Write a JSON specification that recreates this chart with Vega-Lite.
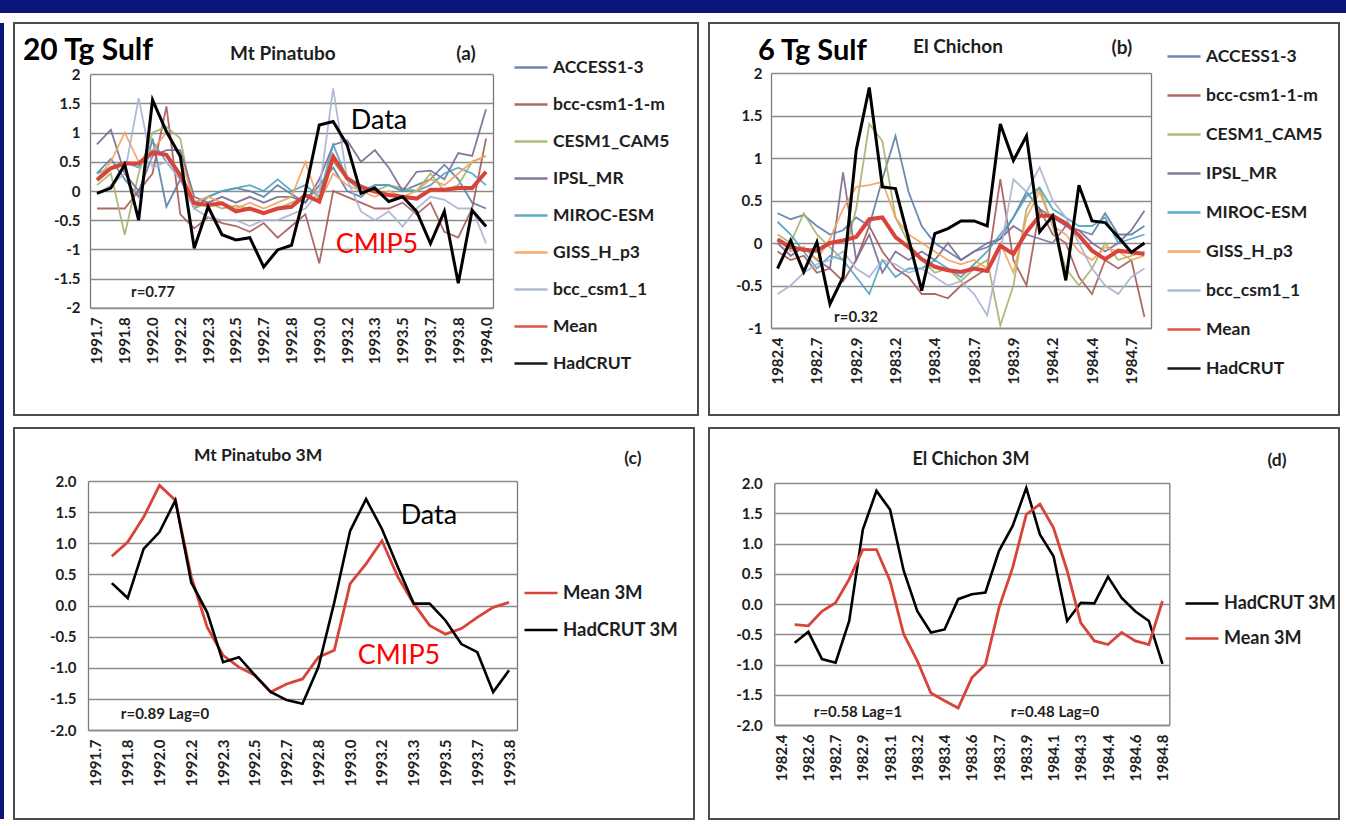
{
"$schema": "https://vega.github.io/schema/vega-lite/v6.json",
"background": "#ffffff",
"padding": {"left": 0, "top": 0, "right": 0, "bottom": 8},
"config": {
  "view": {"stroke": null},
  "locale": {"number": {"decimal": ".", "thousands": ",", "grouping": [3], "currency": ["$", ""], "minus": "-"}},
  "axis": {"labelFont": "Lato", "labelFontWeight": "bold", "labelFontSize": 15, "labelColor": "#1e1e1e", "grid": false, "ticks": false, "domainColor": "#7a7a7a", "domainWidth": 1.3, "labelOverlap": false, "labelFlush": false, "labelBound": false},
  "legend": {"symbolType": "stroke", "symbolSize": 1089, "symbolStrokeWidth": 2.6, "labelFont": "Lato", "labelFontWeight": "bold", "labelFontSize": 17.5, "labelColor": "#1e1e1e", "labelOffset": 4, "labelLimit": 300}
},
"datasets": {
 "a": [
  {"yr":1991.6667,"ACCESS1-3":0.3,"bcc-csm1-1-m":-0.3,"CESM1_CAM5":0.1,"IPSL_MR":0.8,"MIROC-ESM":0.3,"GISS_H_p3":0.2,"bcc_csm1_1":-0.05,"Mean":0.19,"HadCRUT":-0.04},
  {"yr":1991.75,"ACCESS1-3":0.55,"bcc-csm1-1-m":-0.3,"CESM1_CAM5":0.3,"IPSL_MR":1.05,"MIROC-ESM":0.4,"GISS_H_p3":0.5,"bcc_csm1_1":0.1,"Mean":0.39,"HadCRUT":0.05},
  {"yr":1991.8333,"ACCESS1-3":0.2,"bcc-csm1-1-m":-0.3,"CESM1_CAM5":-0.75,"IPSL_MR":0.3,"MIROC-ESM":0.5,"GISS_H_p3":1.0,"bcc_csm1_1":0.3,"Mean":0.47,"HadCRUT":0.45},
  {"yr":1991.9167,"ACCESS1-3":-0.1,"bcc-csm1-1-m":0.0,"CESM1_CAM5":0.3,"IPSL_MR":0.0,"MIROC-ESM":0.4,"GISS_H_p3":0.5,"bcc_csm1_1":1.59,"Mean":0.47,"HadCRUT":-0.5},
  {"yr":1992.0,"ACCESS1-3":0.9,"bcc-csm1-1-m":0.3,"CESM1_CAM5":1.0,"IPSL_MR":0.6,"MIROC-ESM":0.85,"GISS_H_p3":0.7,"bcc_csm1_1":0.4,"Mean":0.66,"HadCRUT":1.56},
  {"yr":1992.0833,"ACCESS1-3":-0.27,"bcc-csm1-1-m":1.45,"CESM1_CAM5":1.1,"IPSL_MR":0.7,"MIROC-ESM":0.5,"GISS_H_p3":1.0,"bcc_csm1_1":0.5,"Mean":0.62,"HadCRUT":1.02},
  {"yr":1992.1667,"ACCESS1-3":0.2,"bcc-csm1-1-m":-0.4,"CESM1_CAM5":0.9,"IPSL_MR":0.7,"MIROC-ESM":0.2,"GISS_H_p3":0.6,"bcc_csm1_1":0.2,"Mean":0.27,"HadCRUT":0.59},
  {"yr":1992.25,"ACCESS1-3":-0.3,"bcc-csm1-1-m":-0.64,"CESM1_CAM5":-0.3,"IPSL_MR":-0.1,"MIROC-ESM":-0.2,"GISS_H_p3":-0.2,"bcc_csm1_1":-0.3,"Mean":-0.21,"HadCRUT":-0.98},
  {"yr":1992.3333,"ACCESS1-3":-0.1,"bcc-csm1-1-m":-0.45,"CESM1_CAM5":-0.2,"IPSL_MR":-0.2,"MIROC-ESM":-0.1,"GISS_H_p3":-0.1,"bcc_csm1_1":-0.45,"Mean":-0.24,"HadCRUT":-0.27},
  {"yr":1992.4167,"ACCESS1-3":0.0,"bcc-csm1-1-m":-0.55,"CESM1_CAM5":-0.3,"IPSL_MR":-0.1,"MIROC-ESM":0.0,"GISS_H_p3":-0.2,"bcc_csm1_1":-0.5,"Mean":-0.21,"HadCRUT":-0.75},
  {"yr":1992.5,"ACCESS1-3":0.05,"bcc-csm1-1-m":-0.6,"CESM1_CAM5":-0.25,"IPSL_MR":-0.2,"MIROC-ESM":0.05,"GISS_H_p3":-0.3,"bcc_csm1_1":-0.5,"Mean":-0.35,"HadCRUT":-0.84},
  {"yr":1992.5833,"ACCESS1-3":0.0,"bcc-csm1-1-m":-0.7,"CESM1_CAM5":-0.3,"IPSL_MR":-0.1,"MIROC-ESM":0.1,"GISS_H_p3":-0.2,"bcc_csm1_1":-0.6,"Mean":-0.3,"HadCRUT":-0.8},
  {"yr":1992.6667,"ACCESS1-3":-0.1,"bcc-csm1-1-m":-0.55,"CESM1_CAM5":-0.4,"IPSL_MR":-0.2,"MIROC-ESM":0.0,"GISS_H_p3":-0.3,"bcc_csm1_1":-0.5,"Mean":-0.38,"HadCRUT":-1.3},
  {"yr":1992.75,"ACCESS1-3":0.1,"bcc-csm1-1-m":-0.8,"CESM1_CAM5":-0.3,"IPSL_MR":-0.1,"MIROC-ESM":0.2,"GISS_H_p3":-0.2,"bcc_csm1_1":-0.5,"Mean":-0.3,"HadCRUT":-1.01},
  {"yr":1992.8333,"ACCESS1-3":-0.05,"bcc-csm1-1-m":-0.6,"CESM1_CAM5":-0.2,"IPSL_MR":-0.1,"MIROC-ESM":0.0,"GISS_H_p3":-0.1,"bcc_csm1_1":-0.4,"Mean":-0.27,"HadCRUT":-0.93},
  {"yr":1992.9167,"ACCESS1-3":-0.2,"bcc-csm1-1-m":-0.4,"CESM1_CAM5":-0.1,"IPSL_MR":-0.2,"MIROC-ESM":0.1,"GISS_H_p3":0.5,"bcc_csm1_1":-0.3,"Mean":-0.07,"HadCRUT":0.0},
  {"yr":1993.0,"ACCESS1-3":0.1,"bcc-csm1-1-m":-1.24,"CESM1_CAM5":0.0,"IPSL_MR":0.2,"MIROC-ESM":-0.1,"GISS_H_p3":-0.2,"bcc_csm1_1":0.0,"Mean":-0.18,"HadCRUT":1.13},
  {"yr":1993.0833,"ACCESS1-3":0.4,"bcc-csm1-1-m":0.0,"CESM1_CAM5":0.5,"IPSL_MR":0.79,"MIROC-ESM":0.8,"GISS_H_p3":0.3,"bcc_csm1_1":1.76,"Mean":0.59,"HadCRUT":1.19},
  {"yr":1993.1667,"ACCESS1-3":0.0,"bcc-csm1-1-m":-0.1,"CESM1_CAM5":0.2,"IPSL_MR":0.87,"MIROC-ESM":0.2,"GISS_H_p3":0.1,"bcc_csm1_1":0.2,"Mean":0.22,"HadCRUT":0.79},
  {"yr":1993.25,"ACCESS1-3":-0.1,"bcc-csm1-1-m":-0.2,"CESM1_CAM5":0.1,"IPSL_MR":0.5,"MIROC-ESM":0.0,"GISS_H_p3":0.0,"bcc_csm1_1":-0.35,"Mean":0.07,"HadCRUT":-0.04},
  {"yr":1993.3333,"ACCESS1-3":0.1,"bcc-csm1-1-m":-0.3,"CESM1_CAM5":0.0,"IPSL_MR":0.7,"MIROC-ESM":0.1,"GISS_H_p3":-0.1,"bcc_csm1_1":-0.5,"Mean":-0.01,"HadCRUT":0.05},
  {"yr":1993.4167,"ACCESS1-3":0.1,"bcc-csm1-1-m":-0.3,"CESM1_CAM5":0.1,"IPSL_MR":0.4,"MIROC-ESM":0.1,"GISS_H_p3":0.0,"bcc_csm1_1":-0.35,"Mean":-0.07,"HadCRUT":-0.18},
  {"yr":1993.5,"ACCESS1-3":0.0,"bcc-csm1-1-m":-0.2,"CESM1_CAM5":0.05,"IPSL_MR":0.0,"MIROC-ESM":0.0,"GISS_H_p3":-0.1,"bcc_csm1_1":-0.61,"Mean":-0.1,"HadCRUT":-0.1},
  {"yr":1993.5833,"ACCESS1-3":0.1,"bcc-csm1-1-m":-0.4,"CESM1_CAM5":0.0,"IPSL_MR":0.33,"MIROC-ESM":0.0,"GISS_H_p3":0.0,"bcc_csm1_1":-0.3,"Mean":-0.13,"HadCRUT":-0.35},
  {"yr":1993.6667,"ACCESS1-3":0.2,"bcc-csm1-1-m":-0.2,"CESM1_CAM5":0.3,"IPSL_MR":0.35,"MIROC-ESM":0.1,"GISS_H_p3":0.2,"bcc_csm1_1":-0.1,"Mean":0.02,"HadCRUT":-0.9},
  {"yr":1993.75,"ACCESS1-3":0.45,"bcc-csm1-1-m":-0.7,"CESM1_CAM5":0.0,"IPSL_MR":0.2,"MIROC-ESM":0.3,"GISS_H_p3":0.1,"bcc_csm1_1":-0.15,"Mean":0.02,"HadCRUT":-0.35},
  {"yr":1993.8333,"ACCESS1-3":0.2,"bcc-csm1-1-m":-0.8,"CESM1_CAM5":0.1,"IPSL_MR":0.65,"MIROC-ESM":0.4,"GISS_H_p3":0.3,"bcc_csm1_1":-0.3,"Mean":0.05,"HadCRUT":-1.58},
  {"yr":1993.9167,"ACCESS1-3":-0.2,"bcc-csm1-1-m":-0.3,"CESM1_CAM5":0.5,"IPSL_MR":0.6,"MIROC-ESM":0.3,"GISS_H_p3":0.5,"bcc_csm1_1":-0.3,"Mean":0.05,"HadCRUT":-0.33},
  {"yr":1994.0,"ACCESS1-3":-0.3,"bcc-csm1-1-m":0.9,"CESM1_CAM5":0.6,"IPSL_MR":1.4,"MIROC-ESM":0.1,"GISS_H_p3":0.6,"bcc_csm1_1":-0.9,"Mean":0.33,"HadCRUT":-0.61}
 ],
 "b": [
  {"yr":1982.4167,"ACCESS1-3":0.35,"bcc-csm1-1-m":-0.1,"CESM1_CAM5":0.1,"IPSL_MR":0.0,"MIROC-ESM":0.25,"GISS_H_p3":0.05,"bcc_csm1_1":-0.6,"Mean":0.04,"HadCRUT":-0.3},
  {"yr":1982.5,"ACCESS1-3":0.28,"bcc-csm1-1-m":-0.2,"CESM1_CAM5":0.0,"IPSL_MR":-0.15,"MIROC-ESM":0.1,"GISS_H_p3":-0.1,"bcc_csm1_1":-0.5,"Mean":-0.05,"HadCRUT":0.03},
  {"yr":1982.5833,"ACCESS1-3":0.33,"bcc-csm1-1-m":-0.15,"CESM1_CAM5":0.35,"IPSL_MR":-0.05,"MIROC-ESM":-0.1,"GISS_H_p3":-0.05,"bcc_csm1_1":-0.35,"Mean":-0.08,"HadCRUT":-0.34},
  {"yr":1982.6667,"ACCESS1-3":0.2,"bcc-csm1-1-m":-0.35,"CESM1_CAM5":0.1,"IPSL_MR":-0.2,"MIROC-ESM":-0.3,"GISS_H_p3":-0.2,"bcc_csm1_1":-0.25,"Mean":-0.09,"HadCRUT":0.01},
  {"yr":1982.75,"ACCESS1-3":0.1,"bcc-csm1-1-m":-0.3,"CESM1_CAM5":-0.05,"IPSL_MR":-0.3,"MIROC-ESM":-0.15,"GISS_H_p3":0.05,"bcc_csm1_1":-0.2,"Mean":0.0,"HadCRUT":-0.72},
  {"yr":1982.8333,"ACCESS1-3":0.15,"bcc-csm1-1-m":-0.45,"CESM1_CAM5":-0.2,"IPSL_MR":0.83,"MIROC-ESM":-0.2,"GISS_H_p3":0.4,"bcc_csm1_1":-0.1,"Mean":0.03,"HadCRUT":-0.4},
  {"yr":1982.9167,"ACCESS1-3":0.3,"bcc-csm1-1-m":-0.2,"CESM1_CAM5":0.4,"IPSL_MR":-0.2,"MIROC-ESM":-0.4,"GISS_H_p3":0.66,"bcc_csm1_1":-0.3,"Mean":0.07,"HadCRUT":1.09},
  {"yr":1983.0,"ACCESS1-3":0.2,"bcc-csm1-1-m":0.2,"CESM1_CAM5":1.4,"IPSL_MR":0.1,"MIROC-ESM":-0.6,"GISS_H_p3":0.68,"bcc_csm1_1":-0.4,"Mean":0.28,"HadCRUT":1.83},
  {"yr":1983.0833,"ACCESS1-3":0.75,"bcc-csm1-1-m":-0.1,"CESM1_CAM5":1.2,"IPSL_MR":-0.35,"MIROC-ESM":-0.2,"GISS_H_p3":0.72,"bcc_csm1_1":-0.2,"Mean":0.3,"HadCRUT":0.66},
  {"yr":1983.1667,"ACCESS1-3":1.26,"bcc-csm1-1-m":-0.3,"CESM1_CAM5":0.3,"IPSL_MR":-0.1,"MIROC-ESM":-0.4,"GISS_H_p3":0.3,"bcc_csm1_1":-0.25,"Mean":0.07,"HadCRUT":0.64},
  {"yr":1983.25,"ACCESS1-3":0.6,"bcc-csm1-1-m":-0.4,"CESM1_CAM5":0.0,"IPSL_MR":-0.2,"MIROC-ESM":-0.3,"GISS_H_p3":0.1,"bcc_csm1_1":-0.35,"Mean":-0.05,"HadCRUT":0.05},
  {"yr":1983.3333,"ACCESS1-3":0.2,"bcc-csm1-1-m":-0.6,"CESM1_CAM5":-0.2,"IPSL_MR":-0.1,"MIROC-ESM":-0.3,"GISS_H_p3":0.0,"bcc_csm1_1":-0.3,"Mean":-0.19,"HadCRUT":-0.56},
  {"yr":1983.4167,"ACCESS1-3":0.0,"bcc-csm1-1-m":-0.6,"CESM1_CAM5":-0.35,"IPSL_MR":-0.2,"MIROC-ESM":-0.2,"GISS_H_p3":-0.1,"bcc_csm1_1":-0.4,"Mean":-0.28,"HadCRUT":0.11},
  {"yr":1983.5,"ACCESS1-3":-0.1,"bcc-csm1-1-m":-0.65,"CESM1_CAM5":-0.3,"IPSL_MR":0.0,"MIROC-ESM":-0.3,"GISS_H_p3":-0.2,"bcc_csm1_1":-0.5,"Mean":-0.32,"HadCRUT":0.17},
  {"yr":1983.5833,"ACCESS1-3":-0.2,"bcc-csm1-1-m":-0.5,"CESM1_CAM5":-0.45,"IPSL_MR":-0.2,"MIROC-ESM":-0.4,"GISS_H_p3":-0.25,"bcc_csm1_1":-0.45,"Mean":-0.34,"HadCRUT":0.26},
  {"yr":1983.6667,"ACCESS1-3":-0.1,"bcc-csm1-1-m":-0.4,"CESM1_CAM5":-0.3,"IPSL_MR":-0.1,"MIROC-ESM":-0.25,"GISS_H_p3":-0.2,"bcc_csm1_1":-0.6,"Mean":-0.3,"HadCRUT":0.26},
  {"yr":1983.75,"ACCESS1-3":0.0,"bcc-csm1-1-m":-0.3,"CESM1_CAM5":-0.2,"IPSL_MR":-0.05,"MIROC-ESM":-0.1,"GISS_H_p3":-0.3,"bcc_csm1_1":-0.85,"Mean":-0.33,"HadCRUT":0.2},
  {"yr":1983.8333,"ACCESS1-3":0.05,"bcc-csm1-1-m":0.75,"CESM1_CAM5":-0.97,"IPSL_MR":0.05,"MIROC-ESM":0.1,"GISS_H_p3":0.0,"bcc_csm1_1":-0.1,"Mean":-0.03,"HadCRUT":1.4},
  {"yr":1983.9167,"ACCESS1-3":0.3,"bcc-csm1-1-m":-0.2,"CESM1_CAM5":-0.5,"IPSL_MR":0.2,"MIROC-ESM":0.3,"GISS_H_p3":-0.35,"bcc_csm1_1":0.75,"Mean":-0.13,"HadCRUT":0.97},
  {"yr":1984.0,"ACCESS1-3":0.6,"bcc-csm1-1-m":-0.5,"CESM1_CAM5":0.4,"IPSL_MR":0.1,"MIROC-ESM":0.55,"GISS_H_p3":0.3,"bcc_csm1_1":0.6,"Mean":0.13,"HadCRUT":1.26},
  {"yr":1984.0833,"ACCESS1-3":0.4,"bcc-csm1-1-m":0.4,"CESM1_CAM5":0.65,"IPSL_MR":0.05,"MIROC-ESM":0.65,"GISS_H_p3":0.6,"bcc_csm1_1":0.89,"Mean":0.32,"HadCRUT":0.13},
  {"yr":1984.1667,"ACCESS1-3":0.3,"bcc-csm1-1-m":0.1,"CESM1_CAM5":0.2,"IPSL_MR":0.0,"MIROC-ESM":0.4,"GISS_H_p3":0.2,"bcc_csm1_1":0.5,"Mean":0.32,"HadCRUT":0.32},
  {"yr":1984.25,"ACCESS1-3":0.2,"bcc-csm1-1-m":0.0,"CESM1_CAM5":-0.3,"IPSL_MR":0.2,"MIROC-ESM":0.3,"GISS_H_p3":0.1,"bcc_csm1_1":0.3,"Mean":0.23,"HadCRUT":-0.44},
  {"yr":1984.3333,"ACCESS1-3":0.15,"bcc-csm1-1-m":-0.4,"CESM1_CAM5":-0.5,"IPSL_MR":0.15,"MIROC-ESM":0.2,"GISS_H_p3":-0.1,"bcc_csm1_1":0.0,"Mean":0.09,"HadCRUT":0.68},
  {"yr":1984.4167,"ACCESS1-3":0.1,"bcc-csm1-1-m":-0.6,"CESM1_CAM5":-0.3,"IPSL_MR":0.0,"MIROC-ESM":0.2,"GISS_H_p3":-0.2,"bcc_csm1_1":-0.3,"Mean":-0.09,"HadCRUT":0.26},
  {"yr":1984.5,"ACCESS1-3":0.35,"bcc-csm1-1-m":-0.2,"CESM1_CAM5":0.0,"IPSL_MR":-0.1,"MIROC-ESM":0.3,"GISS_H_p3":-0.05,"bcc_csm1_1":-0.5,"Mean":-0.19,"HadCRUT":0.24},
  {"yr":1984.5833,"ACCESS1-3":0.1,"bcc-csm1-1-m":-0.3,"CESM1_CAM5":-0.2,"IPSL_MR":0.0,"MIROC-ESM":0.0,"GISS_H_p3":-0.1,"bcc_csm1_1":-0.6,"Mean":-0.09,"HadCRUT":0.07},
  {"yr":1984.6667,"ACCESS1-3":0.1,"bcc-csm1-1-m":-0.2,"CESM1_CAM5":-0.15,"IPSL_MR":0.15,"MIROC-ESM":0.05,"GISS_H_p3":-0.2,"bcc_csm1_1":-0.4,"Mean":-0.11,"HadCRUT":-0.11},
  {"yr":1984.75,"ACCESS1-3":0.2,"bcc-csm1-1-m":-0.87,"CESM1_CAM5":-0.1,"IPSL_MR":0.38,"MIROC-ESM":0.1,"GISS_H_p3":-0.15,"bcc_csm1_1":-0.3,"Mean":-0.13,"HadCRUT":0.0}
 ],
 "c": [
  {"yr":1991.75,"Mean 3M":0.79,"HadCRUT 3M":0.36},
  {"yr":1991.8333,"Mean 3M":1.02,"HadCRUT 3M":0.12},
  {"yr":1991.9167,"Mean 3M":1.42,"HadCRUT 3M":0.91},
  {"yr":1992.0,"Mean 3M":1.93,"HadCRUT 3M":1.18},
  {"yr":1992.0833,"Mean 3M":1.69,"HadCRUT 3M":1.69},
  {"yr":1992.1667,"Mean 3M":0.46,"HadCRUT 3M":0.37},
  {"yr":1992.25,"Mean 3M":-0.35,"HadCRUT 3M":-0.11},
  {"yr":1992.3333,"Mean 3M":-0.8,"HadCRUT 3M":-0.91},
  {"yr":1992.4167,"Mean 3M":-0.99,"HadCRUT 3M":-0.83},
  {"yr":1992.5,"Mean 3M":-1.12,"HadCRUT 3M":-1.12},
  {"yr":1992.5833,"Mean 3M":-1.39,"HadCRUT 3M":-1.39},
  {"yr":1992.6667,"Mean 3M":-1.26,"HadCRUT 3M":-1.52},
  {"yr":1992.75,"Mean 3M":-1.18,"HadCRUT 3M":-1.58},
  {"yr":1992.8333,"Mean 3M":-0.83,"HadCRUT 3M":-0.99},
  {"yr":1992.9167,"Mean 3M":-0.72,"HadCRUT 3M":0.05},
  {"yr":1993.0,"Mean 3M":0.35,"HadCRUT 3M":1.2},
  {"yr":1993.0833,"Mean 3M":0.67,"HadCRUT 3M":1.71},
  {"yr":1993.1667,"Mean 3M":1.04,"HadCRUT 3M":1.23},
  {"yr":1993.25,"Mean 3M":0.46,"HadCRUT 3M":0.62},
  {"yr":1993.3333,"Mean 3M":0.03,"HadCRUT 3M":0.03},
  {"yr":1993.4167,"Mean 3M":-0.32,"HadCRUT 3M":0.03},
  {"yr":1993.5,"Mean 3M":-0.46,"HadCRUT 3M":-0.24},
  {"yr":1993.5833,"Mean 3M":-0.37,"HadCRUT 3M":-0.62},
  {"yr":1993.6667,"Mean 3M":-0.19,"HadCRUT 3M":-0.75},
  {"yr":1993.75,"Mean 3M":-0.03,"HadCRUT 3M":-1.39},
  {"yr":1993.8333,"Mean 3M":0.05,"HadCRUT 3M":-1.04}
 ],
 "d": [
  {"yr":1982.5,"HadCRUT 3M":-0.64,"Mean 3M":-0.34},
  {"yr":1982.5833,"HadCRUT 3M":-0.46,"Mean 3M":-0.36},
  {"yr":1982.6667,"HadCRUT 3M":-0.91,"Mean 3M":-0.12},
  {"yr":1982.75,"HadCRUT 3M":-0.97,"Mean 3M":0.02},
  {"yr":1982.8333,"HadCRUT 3M":-0.28,"Mean 3M":0.41},
  {"yr":1982.9167,"HadCRUT 3M":1.23,"Mean 3M":0.9},
  {"yr":1983.0,"HadCRUT 3M":1.87,"Mean 3M":0.9},
  {"yr":1983.0833,"HadCRUT 3M":1.56,"Mean 3M":0.38},
  {"yr":1983.1667,"HadCRUT 3M":0.55,"Mean 3M":-0.5},
  {"yr":1983.25,"HadCRUT 3M":-0.12,"Mean 3M":-0.94},
  {"yr":1983.3333,"HadCRUT 3M":-0.47,"Mean 3M":-1.47},
  {"yr":1983.4167,"HadCRUT 3M":-0.42,"Mean 3M":-1.6},
  {"yr":1983.5,"HadCRUT 3M":0.08,"Mean 3M":-1.72},
  {"yr":1983.5833,"HadCRUT 3M":0.16,"Mean 3M":-1.22},
  {"yr":1983.6667,"HadCRUT 3M":0.19,"Mean 3M":-1.0},
  {"yr":1983.75,"HadCRUT 3M":0.88,"Mean 3M":-0.06},
  {"yr":1983.8333,"HadCRUT 3M":1.29,"Mean 3M":0.6},
  {"yr":1983.9167,"HadCRUT 3M":1.92,"Mean 3M":1.48},
  {"yr":1984.0,"HadCRUT 3M":1.15,"Mean 3M":1.65},
  {"yr":1984.0833,"HadCRUT 3M":0.79,"Mean 3M":1.26},
  {"yr":1984.1667,"HadCRUT 3M":-0.28,"Mean 3M":0.55},
  {"yr":1984.25,"HadCRUT 3M":0.02,"Mean 3M":-0.31},
  {"yr":1984.3333,"HadCRUT 3M":0.01,"Mean 3M":-0.61},
  {"yr":1984.4167,"HadCRUT 3M":0.45,"Mean 3M":-0.67},
  {"yr":1984.5,"HadCRUT 3M":0.1,"Mean 3M":-0.47},
  {"yr":1984.5833,"HadCRUT 3M":-0.12,"Mean 3M":-0.61},
  {"yr":1984.6667,"HadCRUT 3M":-0.28,"Mean 3M":-0.67},
  {"yr":1984.75,"HadCRUT 3M":-0.99,"Mean 3M":0.05}
 ]
},
"spacing": 9,
"resolve": {"scale": {"color": "independent"}, "legend": {"color": "independent"}},
"vconcat": [
 {"width": 1346, "height": 13, "data": {"values": []}, "mark": "point", "view": {"fill": "#0b1778", "stroke": null}},
 {"spacing": 9,
  "resolve": {"scale": {"color": "independent"}, "legend": {"color": "independent"}},
  "hconcat": [
  {"width": 4, "height": 796, "data": {"values": []}, "mark": "point", "view": {"fill": "#0b1778", "stroke": null}},
  {"spacing": 11,
   "resolve": {"scale": {"color": "independent"}, "legend": {"color": "independent"}},
   "vconcat": [
   {"spacing": 9,
    "resolve": {"scale": {"color": "independent"}, "legend": {"color": "independent"}},
    "hconcat": [
    {
     "width": 684, "height": 392,
     "view": {"fill": "#ffffff", "stroke": "#4d4d4d", "strokeWidth": 2},
     "resolve": {"axis": {"x": "independent", "y": "independent"}},
     "layer": [
      {"data": {"name": "a"},
       "transform": [{"fold": ["ACCESS1-3","bcc-csm1-1-m","CESM1_CAM5","IPSL_MR","MIROC-ESM","GISS_H_p3","bcc_csm1_1"], "as": ["series","v"]}],
       "mark": {"type": "line", "strokeWidth": 1.8, "opacity": 0.9},
       "encoding": {
        "x": {"field": "yr", "type": "quantitative", "scale": {"domain": [1991.625, 1994.0417], "range": [76, 479], "nice": false, "zero": false},
              "axis": {"orient": "bottom", "offset": -107.3, "title": null, "values": [1991.6667,1991.8333,1992.0,1992.1667,1992.3333,1992.5,1992.6667,1992.8333,1993.0,1993.1667,1993.3333,1993.5,1993.6667,1993.8333,1994.0], "format": ".1f", "labelAngle": 270, "labelAlign": "right", "labelBaseline": "middle", "labelPadding": 9}},
        "y": {"field": "v", "type": "quantitative", "scale": {"domain": [-2, 2], "range": [284.7, 51.3], "nice": false, "zero": false},
              "axis": {"orient": "left", "offset": -76, "title": null, "values": [-2,-1.5,-1,-0.5,0,0.5,1,1.5,2], "format": "~g", "labelPadding": 10}},
        "color": {"field": "series", "type": "nominal",
                  "scale": {"domain": ["ACCESS1-3","bcc-csm1-1-m","CESM1_CAM5","IPSL_MR","MIROC-ESM","GISS_H_p3","bcc_csm1_1","Mean","HadCRUT"], "range": ["#5a7ea8","#a55a57","#a7b36a","#7a6892","#4fa3bf","#f2a35e","#a8b3d3","#d8433a","#000000"]},
                  "legend": {"title": null, "orient": "none", "legendX": 499, "legendY": 26.5, "rowPadding": 10}}
       }},
      {"data": {"name": "a"}, "mark": {"type": "line", "strokeWidth": 4},
       "encoding": {"x": {"field": "yr", "type": "quantitative", "axis": null}, "y": {"field": "Mean", "type": "quantitative", "axis": null}, "color": {"datum": "Mean", "legend": {"title": null, "orient": "none", "legendX": 499, "legendY": 26.5, "rowPadding": 10}}}},
      {"data": {"name": "a"}, "mark": {"type": "line", "strokeWidth": 3},
       "encoding": {"x": {"field": "yr", "type": "quantitative", "axis": null}, "y": {"field": "HadCRUT", "type": "quantitative",
        "axis": {"orient": "right", "offset": -205, "title": null, "values": [-2,-1.5,-1,-0.5,0,0.5,1,1.5,2], "labels": false, "ticks": true, "tickSize": -403, "tickColor": "#8c8c8c", "tickWidth": 1.3, "domain": true}},
        "color": {"datum": "HadCRUT", "legend": {"title": null, "orient": "none", "legendX": 499, "legendY": 26.5, "rowPadding": 10}}}},
      {"data": {"values": [{}]}, "mark": {"type": "text", "text": "20 Tg Sulf", "font": "Lato", "fontSize": 30, "fontWeight": "bold", "color": "#000000", "align": "left", "baseline": "middle"},
       "encoding": {"x": {"datum": 1991.223, "axis": null}, "y": {"datum": 2.4, "axis": null}}},
      {"data": {"values": [{}]}, "mark": {"type": "text", "text": "Mt Pinatubo", "font": "Lato", "fontSize": 19, "fontWeight": "bold", "color": "#1e1e1e", "align": "center", "baseline": "middle"},
       "encoding": {"x": {"datum": 1992.782, "axis": null}, "y": {"datum": 2.348, "axis": null}}},
      {"data": {"values": [{}]}, "mark": {"type": "text", "text": "(a)", "font": "Lato", "fontSize": 19, "fontWeight": "bold", "color": "#1e1e1e", "align": "center", "baseline": "middle"},
       "encoding": {"x": {"datum": 1993.88, "axis": null}, "y": {"datum": 2.348, "axis": null}}},
      {"data": {"values": [{}]}, "mark": {"type": "text", "text": "Data", "font": "Lato", "fontSize": 27, "color": "#000000", "align": "center", "baseline": "middle"},
       "encoding": {"x": {"datum": 1993.358, "axis": null}, "y": {"datum": 1.2, "axis": null}}},
      {"data": {"values": [{}]}, "mark": {"type": "text", "text": "CMIP5", "font": "Lato", "fontSize": 27, "color": "#ff0000", "align": "center", "baseline": "middle"},
       "encoding": {"x": {"datum": 1993.346, "axis": null}, "y": {"datum": -0.925, "axis": null}}},
      {"data": {"values": [{}]}, "mark": {"type": "text", "text": "r=0.77", "font": "Lato", "fontSize": 15, "fontWeight": "bold", "color": "#1e1e1e", "align": "center", "baseline": "middle"},
       "encoding": {"x": {"datum": 1992.003, "axis": null}, "y": {"datum": -1.73, "axis": null}}}
     ]
    },
    {
     "width": 630, "height": 392,
     "view": {"fill": "#ffffff", "stroke": "#4d4d4d", "strokeWidth": 2},
     "resolve": {"axis": {"x": "independent", "y": "independent"}},
     "layer": [
      {"data": {"name": "b"},
       "transform": [{"fold": ["ACCESS1-3","bcc-csm1-1-m","CESM1_CAM5","IPSL_MR","MIROC-ESM","GISS_H_p3","bcc_csm1_1"], "as": ["series","v"]}],
       "mark": {"type": "line", "strokeWidth": 1.8, "opacity": 0.9},
       "encoding": {
        "x": {"field": "yr", "type": "quantitative", "scale": {"domain": [1982.375, 1984.7917], "range": [62, 442], "nice": false, "zero": false},
              "axis": {"orient": "bottom", "offset": -87, "title": null, "values": [1982.4167,1982.6667,1982.9167,1983.1667,1983.4167,1983.6667,1983.9167,1984.1667,1984.4167,1984.6667], "format": ".1f", "labelAngle": 270, "labelAlign": "right", "labelBaseline": "middle", "labelPadding": 9}},
        "y": {"field": "v", "type": "quantitative", "scale": {"domain": [-1, 2], "range": [305, 50], "nice": false, "zero": false},
              "axis": {"orient": "left", "offset": -62, "title": null, "values": [-1,-0.5,0,0.5,1,1.5,2], "format": "~g", "labelPadding": 9}},
        "color": {"field": "series", "type": "nominal",
                  "scale": {"domain": ["ACCESS1-3","bcc-csm1-1-m","CESM1_CAM5","IPSL_MR","MIROC-ESM","GISS_H_p3","bcc_csm1_1","Mean","HadCRUT"], "range": ["#5a7ea8","#a55a57","#a7b36a","#7a6892","#4fa3bf","#f2a35e","#a8b3d3","#d8433a","#000000"]},
                  "legend": {"title": null, "orient": "none", "legendX": 457, "legendY": 15.5, "rowPadding": 12}}
       }},
      {"data": {"name": "b"}, "mark": {"type": "line", "strokeWidth": 4},
       "encoding": {"x": {"field": "yr", "type": "quantitative", "axis": null}, "y": {"field": "Mean", "type": "quantitative", "axis": null}, "color": {"datum": "Mean", "legend": {"title": null, "orient": "none", "legendX": 457, "legendY": 15.5, "rowPadding": 12}}}},
      {"data": {"name": "b"}, "mark": {"type": "line", "strokeWidth": 3},
       "encoding": {"x": {"field": "yr", "type": "quantitative", "axis": null}, "y": {"field": "HadCRUT", "type": "quantitative",
        "axis": {"orient": "right", "offset": -188, "title": null, "values": [-1,-0.5,0,0.5,1,1.5,2], "labels": false, "ticks": true, "tickSize": -380, "tickColor": "#8c8c8c", "tickWidth": 1.3, "domain": true}},
        "color": {"datum": "HadCRUT", "legend": {"title": null, "orient": "none", "legendX": 457, "legendY": 15.5, "rowPadding": 12}}}},
      {"data": {"values": [{}]}, "mark": {"type": "text", "text": "6 Tg Sulf", "font": "Lato", "fontSize": 29, "fontWeight": "bold", "color": "#000000", "align": "left", "baseline": "middle"},
       "encoding": {"x": {"datum": 1982.292, "axis": null}, "y": {"datum": 2.26, "axis": null}}},
      {"data": {"values": [{}]}, "mark": {"type": "text", "text": "El Chichon", "font": "Lato", "fontSize": 19, "fontWeight": "bold", "color": "#1e1e1e", "align": "center", "baseline": "middle"},
       "encoding": {"x": {"datum": 1983.564, "axis": null}, "y": {"datum": 2.306, "axis": null}}},
      {"data": {"values": [{}]}, "mark": {"type": "text", "text": "(b)", "font": "Lato", "fontSize": 19, "fontWeight": "bold", "color": "#1e1e1e", "align": "center", "baseline": "middle"},
       "encoding": {"x": {"datum": 1984.607, "axis": null}, "y": {"datum": 2.294, "axis": null}}},
      {"data": {"values": [{}]}, "mark": {"type": "text", "text": "r=0.32", "font": "Lato", "fontSize": 15, "fontWeight": "bold", "color": "#1e1e1e", "align": "center", "baseline": "middle"},
       "encoding": {"x": {"datum": 1982.916, "axis": null}, "y": {"datum": -0.871, "axis": null}}}
     ]
    }
   ]},
   {"spacing": 13,
    "resolve": {"scale": {"color": "independent"}, "legend": {"color": "independent"}},
    "hconcat": [
    {
     "width": 680, "height": 391,
     "view": {"fill": "#ffffff", "stroke": "#4d4d4d", "strokeWidth": 2},
     "resolve": {"axis": {"x": "independent", "y": "independent"}},
     "layer": [
      {"data": {"name": "c"}, "mark": {"type": "line", "strokeWidth": 2.8},
       "encoding": {
        "x": {"field": "yr", "type": "quantitative", "scale": {"domain": [1991.625, 1993.875], "range": [74, 503], "nice": false, "zero": false},
              "axis": {"orient": "bottom", "offset": -89, "title": null, "values": [1991.6667,1991.8333,1992.0,1992.1667,1992.3333,1992.5,1992.6667,1992.8333,1993.0,1993.1667,1993.3333,1993.5,1993.6667,1993.8333], "format": ".1f", "labelAngle": 270, "labelAlign": "right", "labelBaseline": "middle", "labelPadding": 9}},
        "y": {"field": "Mean 3M", "type": "quantitative", "scale": {"domain": [-2, 2], "range": [302, 53], "nice": false, "zero": false},
              "axis": {"orient": "left", "offset": -74, "title": null, "values": [-2,-1.5,-1,-0.5,0,0.5,1,1.5,2], "format": ".1f", "labelPadding": 12}},
        "color": {"datum": "Mean 3M", "scale": {"domain": ["Mean 3M", "HadCRUT 3M"], "range": ["#d8433a", "#000000"]},
                  "legend": {"title": null, "orient": "none", "legendX": 509, "legendY": 147, "rowPadding": 9, "labelFontSize": 18.5}}
       }},
      {"data": {"name": "c"}, "mark": {"type": "line", "strokeWidth": 2.6},
       "encoding": {"x": {"field": "yr", "type": "quantitative", "axis": null}, "y": {"field": "HadCRUT 3M", "type": "quantitative",
        "axis": {"orient": "right", "offset": -177, "title": null, "values": [-2,-1.5,-1,-0.5,0,0.5,1,1.5,2], "labels": false, "ticks": true, "tickSize": -429, "tickColor": "#8c8c8c", "tickWidth": 1.3, "domain": true}},
        "color": {"datum": "HadCRUT 3M", "legend": {"title": null, "orient": "none", "legendX": 509, "legendY": 147, "rowPadding": 9, "labelFontSize": 18.5}}}},
      {"data": {"values": [{}]}, "mark": {"type": "text", "text": "Mt Pinatubo 3M", "font": "Lato", "fontSize": 17.5, "fontWeight": "bold", "color": "#1e1e1e", "align": "center", "baseline": "middle"},
       "encoding": {"x": {"datum": 1992.517, "axis": null}, "y": {"datum": 2.402, "axis": null}}},
      {"data": {"values": [{}]}, "mark": {"type": "text", "text": "(c)", "font": "Lato", "fontSize": 17.5, "fontWeight": "bold", "color": "#1e1e1e", "align": "center", "baseline": "middle"},
       "encoding": {"x": {"datum": 1994.483, "axis": null}, "y": {"datum": 2.353, "axis": null}}},
      {"data": {"values": [{}]}, "mark": {"type": "text", "text": "Data", "font": "Lato", "fontSize": 27, "color": "#000000", "align": "center", "baseline": "middle"},
       "encoding": {"x": {"datum": 1993.413, "axis": null}, "y": {"datum": 1.438, "axis": null}}},
      {"data": {"values": [{}]}, "mark": {"type": "text", "text": "CMIP5", "font": "Lato", "fontSize": 27, "color": "#ff0000", "align": "center", "baseline": "middle"},
       "encoding": {"x": {"datum": 1993.256, "axis": null}, "y": {"datum": -0.811, "axis": null}}},
      {"data": {"values": [{}]}, "mark": {"type": "text", "text": "r=0.89 Lag=0", "font": "Lato", "fontSize": 15, "fontWeight": "bold", "color": "#1e1e1e", "align": "center", "baseline": "middle"},
       "encoding": {"x": {"datum": 1992.029, "axis": null}, "y": {"datum": -1.743, "axis": null}}}
     ]
    },
    {
     "width": 630, "height": 391,
     "view": {"fill": "#ffffff", "stroke": "#4d4d4d", "strokeWidth": 2},
     "resolve": {"axis": {"x": "independent", "y": "independent"}},
     "layer": [
      {"data": {"name": "d"}, "mark": {"type": "line", "strokeWidth": 2.6},
       "encoding": {
        "x": {"field": "yr", "type": "quantitative", "scale": {"domain": [1982.375, 1984.7917], "range": [65.3, 460.3], "nice": false, "zero": false},
              "axis": {"orient": "bottom", "offset": -94, "title": null, "values": [1982.4167,1982.5833,1982.75,1982.9167,1983.0833,1983.25,1983.4167,1983.5833,1983.75,1983.9167,1984.0833,1984.25,1984.4167,1984.5833,1984.75], "labelExpr": "format(datum.value - (datum.value < 1984 ? 0.001 : 0), '.1f')", "labelAngle": 270, "labelAlign": "right", "labelBaseline": "middle", "labelPadding": 9}},
        "y": {"field": "HadCRUT 3M", "type": "quantitative", "scale": {"domain": [-2, 2], "range": [297, 55], "nice": false, "zero": false},
              "axis": {"orient": "left", "offset": -65.3, "title": null, "values": [-2,-1.5,-1,-0.5,0,0.5,1,1.5,2], "format": ".1f", "labelPadding": 12}},
        "color": {"datum": "HadCRUT 3M", "scale": {"domain": ["HadCRUT 3M", "Mean 3M"], "range": ["#000000", "#d8433a"]},
                  "legend": {"title": null, "orient": "none", "legendX": 475, "legendY": 157.5, "rowPadding": 8, "labelFontSize": 18}}
       }},
      {"data": {"name": "d"}, "mark": {"type": "line", "strokeWidth": 2.8},
       "encoding": {"x": {"field": "yr", "type": "quantitative", "axis": null}, "y": {"field": "Mean 3M", "type": "quantitative",
        "axis": {"orient": "right", "offset": -169.7, "title": null, "values": [-2,-1.5,-1,-0.5,0,0.5,1,1.5,2], "labels": false, "ticks": true, "tickSize": -395, "tickColor": "#8c8c8c", "tickWidth": 1.3, "domain": true}},
        "color": {"datum": "Mean 3M", "legend": {"title": null, "orient": "none", "legendX": 475, "legendY": 157.5, "rowPadding": 8, "labelFontSize": 18}}}},
      {"data": {"values": [{}]}, "mark": {"type": "text", "text": "El Chichon 3M", "font": "Lato", "fontSize": 18, "fontWeight": "bold", "color": "#1e1e1e", "align": "center", "baseline": "middle"},
       "encoding": {"x": {"datum": 1983.578, "axis": null}, "y": {"datum": 2.38, "axis": null}}},
      {"data": {"values": [{}]}, "mark": {"type": "text", "text": "(d)", "font": "Lato", "fontSize": 17.5, "fontWeight": "bold", "color": "#1e1e1e", "align": "center", "baseline": "middle"},
       "encoding": {"x": {"datum": 1985.451, "axis": null}, "y": {"datum": 2.364, "axis": null}}},
      {"data": {"values": [{}]}, "mark": {"type": "text", "text": "r=0.58 Lag=1", "font": "Lato", "fontSize": 15, "fontWeight": "bold", "color": "#1e1e1e", "align": "center", "baseline": "middle"},
       "encoding": {"x": {"datum": 1982.887, "axis": null}, "y": {"datum": -1.785, "axis": null}}},
      {"data": {"values": [{}]}, "mark": {"type": "text", "text": "r=0.48 Lag=0", "font": "Lato", "fontSize": 15, "fontWeight": "bold", "color": "#1e1e1e", "align": "center", "baseline": "middle"},
       "encoding": {"x": {"datum": 1984.092, "axis": null}, "y": {"datum": -1.785, "axis": null}}}
     ]
    }
   ]}
  ]}
 ]}
]
}
